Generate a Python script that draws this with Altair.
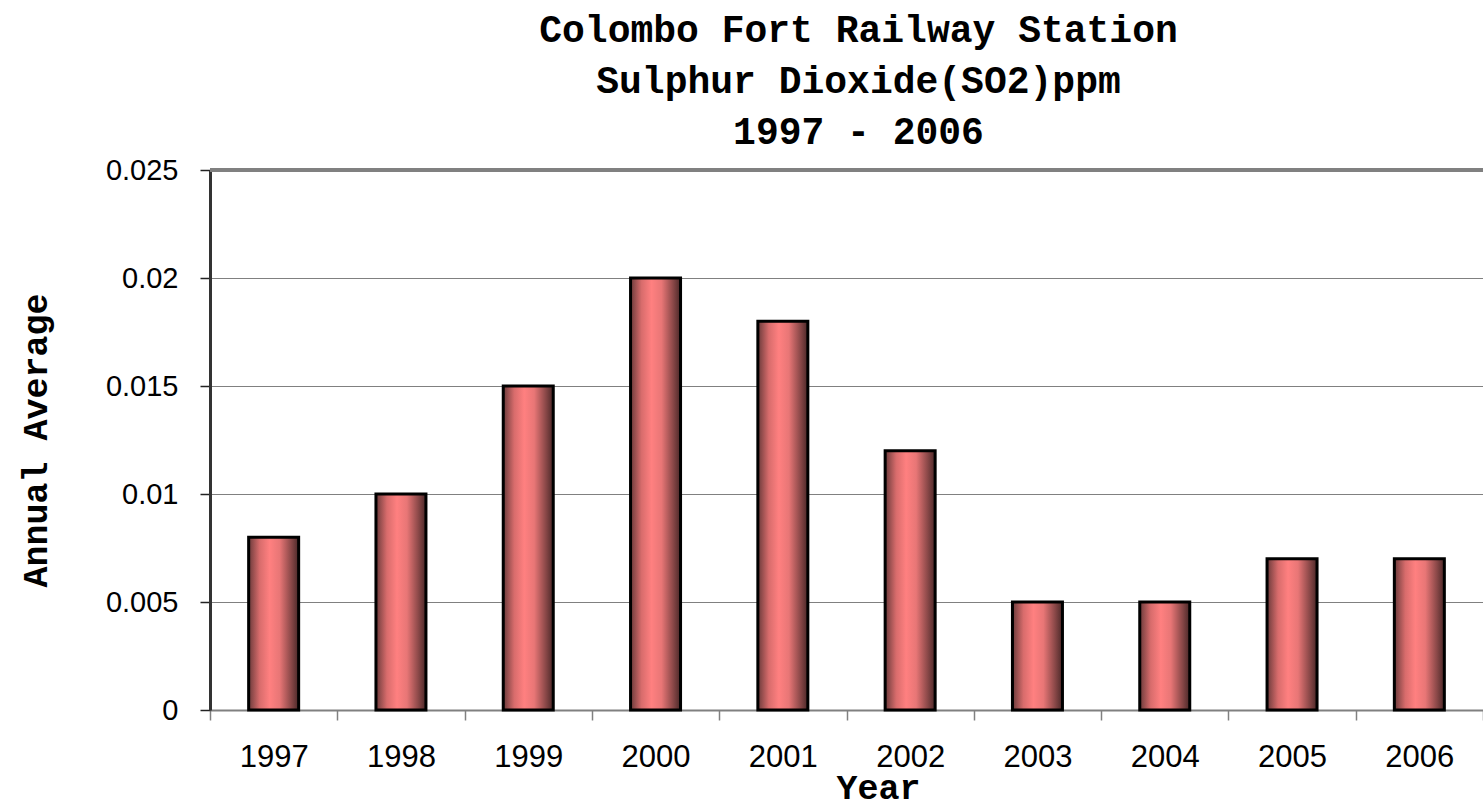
import altair as alt
import pandas as pd

years = ["1997", "1998", "1999", "2000", "2001", "2002", "2003", "2004", "2005", "2006"]
so2 = [0.008, 0.010, 0.015, 0.020, 0.018, 0.012, 0.005, 0.005, 0.007, 0.007]
y_ticks = [0, 0.005, 0.01, 0.015, 0.02, 0.025]
top_value = [0.025]

df = pd.DataFrame({"Year": years, "SO2": so2})

serif = "Liberation Mono"
sans = "Liberation Sans"

grad = alt.Gradient(
    gradient="linear",
    x1=0, x2=1, y1=0, y2=0,
    stops=[
        alt.GradientStop(offset=0.0, color="#6a3a3a"),
        alt.GradientStop(offset=0.22, color="#d86c6c"),
        alt.GradientStop(offset=0.42, color="#ff8080"),
        alt.GradientStop(offset=0.62, color="#e87676"),
        alt.GradientStop(offset=0.85, color="#8a4848"),
        alt.GradientStop(offset=1.0, color="#4a2828"),
    ],
)

bars = alt.Chart(df).mark_bar(
    size=50, color=grad, stroke="black", strokeWidth=3
).encode(
    x=alt.X("Year:N", sort=years,
            scale=alt.Scale(paddingInner=0, paddingOuter=0),
            axis=alt.Axis(title="Year", labelAngle=0, tickBand="extent",
                          labelFont=sans, labelFontSize=31, labelColor="black",
                          labelPadding=22,
                          titleFont=serif, titleFontSize=35, titleFontWeight="bold",
                          titleColor="black", titleX=668, titleY=88,
                          titleAlign="center", titleBaseline="alphabetic",
                          domainColor="#808080", domainWidth=2,
                          tickColor="#808080", tickSize=10, tickWidth=1.5)),
    y=alt.Y("SO2:Q",
            scale=alt.Scale(domain=[0, 0.025], nice=False),
            axis=alt.Axis(title="Annual Average", values=y_ticks,
                          labelExpr="datum.value == 0 ? '0' : format(datum.value, '~g')",
                          labelFont=sans, labelFontSize=29, labelColor="black",
                          labelPadding=22,
                          titleFont=serif, titleFontSize=35, titleFontWeight="bold",
                          titleColor="black", titleX=-175, titleBaseline="middle",
                          domainColor="#333333", domainWidth=3,
                          tickColor="#222222", tickSize=10, tickWidth=1.5,
                          grid=True, gridColor="#808080", gridWidth=1.2)),
)

top_rule = alt.Chart(pd.DataFrame({"v": top_value})).mark_rule(
    color="#808080", strokeWidth=4
).encode(y="v:Q")

chart = alt.layer(bars, top_rule).properties(
    width=1273,
    height=540,
    title=alt.TitleParams(
        text=["Colombo Fort Railway Station", "Sulphur Dioxide(SO2)ppm", "1997 - 2006"],
        font=serif, fontSize=38, fontWeight="bold", color="black",
        lineHeight=51, anchor="middle", offset=4, dx=12,
    ),
    autosize=alt.AutoSizeParams(type="none"),
    padding={"left": 210, "top": 170, "right": 0, "bottom": 99},
).configure_view(
    stroke=None
).configure(background="white")

chart.save("out.html", embed_options={"renderer": "svg", "actions": False})
